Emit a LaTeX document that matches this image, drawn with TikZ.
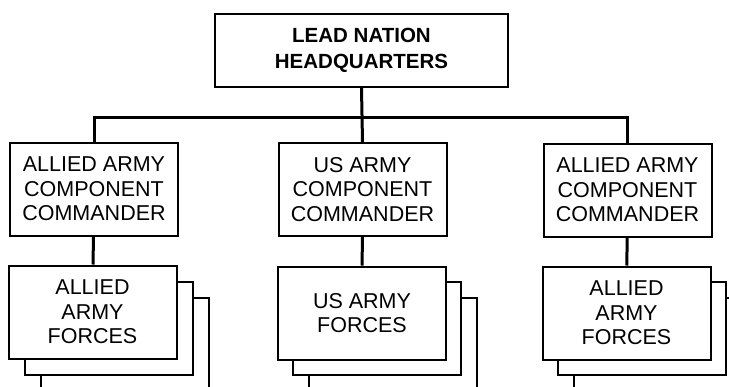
\documentclass[tikz,border=0pt]{standalone}
\usepackage{fontspec}
\setmainfont{Liberation Sans}
\tikzset{
  box/.style={draw=black, line width=2pt, fill=white, minimum width=168pt, minimum height=93pt, inner sep=0pt, align=center, font=\fontsize{21.5}{24.5}\selectfont},
  topbox/.style={box, minimum width=293pt, minimum height=73pt, font=\bfseries\fontsize{20.5}{25.5}\selectfont},
  backbox/.style={draw=black, line width=2pt, fill=white, minimum width=168pt, minimum height=93pt, inner sep=0pt},
  conn/.style={draw=black, line width=3pt}
}
\begin{document}
\begin{tikzpicture}[x=1pt,y=-1pt]
\useasboundingbox (0,0) rectangle (729,386);
\clip (0,0) rectangle (729,386);
\fill[white] (0,0) rectangle (729,386);
% top
\node[topbox] (top) at (361.5,50.5) {LEAD NATION\\HEADQUARTERS};
% commanders
\node[box] (cL) at (94,189) {ALLIED ARMY\\COMPONENT\\COMMANDER};
\node[box] (cM) at (362.5,189.5) {US ARMY\\COMPONENT\\COMMANDER};
\node[box] (cR) at (627.5,190) {ALLIED ARMY\\COMPONENT\\COMMANDER};
% bus
\coordinate (bus) at (0,117);
\draw[conn] (top.south) -- (cM.north);
\draw[conn] (cL.north) -- (cL.north |- bus) -- (cR.north |- bus) -- (cR.north);
% stacked force boxes
\node[backbox] (fL3) at (125,344) {};
\node[backbox] (fL2) at (108.5,328) {};
\node[box] (fL) at (92.5,312) {ALLIED\\ARMY\\FORCES};
\node[backbox] (fM3) at (393,344) {};
\node[backbox] (fM2) at (377,328) {};
\node[box] (fM) at (362,313) {US ARMY\\FORCES};
\node[backbox] (fR3) at (658,344) {};
\node[backbox] (fR2) at (642,328) {};
\node[box] (fR) at (626.5,313) {ALLIED\\ARMY\\FORCES};
% commander to forces
\draw[conn] (cL) -- (fL);
\draw[conn] (cM) -- (fM);
\draw[conn] (cR) -- (fR);
\end{tikzpicture}
\end{document}
